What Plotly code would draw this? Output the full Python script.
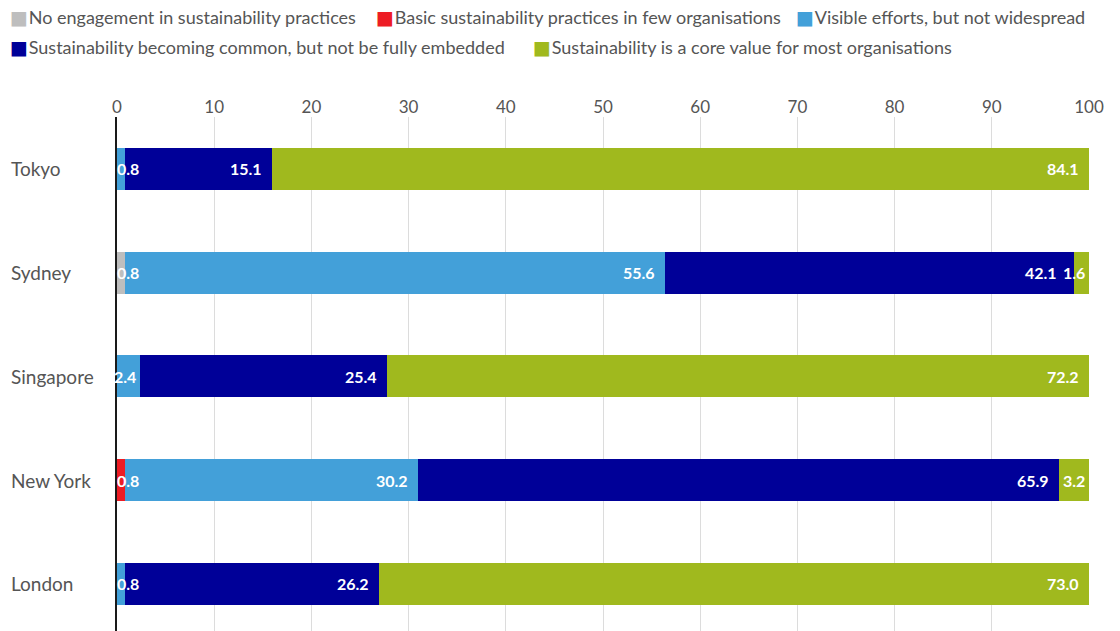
import plotly.graph_objects as go

cities = ["Tokyo", "Sydney", "Singapore", "New York", "London"]

no_engagement = [0, 0.8, 0, 0, 0]
basic_practices = [0, 0, 0, 0.8, 0]
visible_efforts = [0.8, 55.6, 2.4, 30.2, 0.8]
becoming_common = [15.1, 42.1, 25.4, 65.9, 26.2]
core_value = [84.1, 1.6, 72.2, 3.2, 73.0]

series = [
    ("No engagement in sustainability practices", no_engagement, "#bebebe"),
    ("Basic sustainability practices in few organisations", basic_practices, "#ed1c24"),
    ("Visible efforts, but not widespread", visible_efforts, "#43a0d9"),
    ("Sustainability becoming common, but not be fully embedded", becoming_common, "#000098"),
    ("Sustainability is a core value for most organisations", core_value, "#a0b91e"),
]

# key layout: (row, left edge in px) for each series
key_slots = [(0, 8), (0, 374), (0, 794), (1, 8), (1, 531)]

FONT = "Lato"
TEXT_GREY = "#555555"
PLOT_L, PLOT_W, PLOT_T, FIG_H = 117, 972, 117, 631
PLOT_H = FIG_H - PLOT_T

fig = go.Figure()
for name, vals, color in series:
    fig.add_trace(go.Bar(
        y=cities, x=vals, name=name, orientation="h",
        marker=dict(color=color, line=dict(width=0)),
        hoverinfo="x+name", showlegend=False,
    ))

annotations = []

# value labels at the right end of each segment (tiny leading segments sit at the axis)
for i, city in enumerate(cities):
    start = 0.0
    nonzero = [(s[1][i]) for s in series if s[1][i] > 0]
    for k, v in enumerate(nonzero):
        end = start + v
        label = f"<b>{v:.1f}</b>"
        font = dict(family=FONT, size=16, color="white")
        if end < 2:
            annotations.append(dict(x=0, y=city, xref="x", yref="y", text=label,
                                    xanchor="left", showarrow=False, xshift=-2, font=font))
        else:
            nxt = nonzero[k + 1] if k + 1 < len(nonzero) else None
            if v <= 5:
                shift = -2
            elif nxt is not None and nxt < 2:
                shift = -15
            else:
                shift = -8
            annotations.append(dict(x=min(end, 100), y=city, xref="x", yref="y", text=label,
                                    xanchor="right", showarrow=False, xshift=shift, font=font))
        start = end

# city names, left aligned near the page edge
for city in cities:
    annotations.append(dict(x=(9 - PLOT_L) / PLOT_W, y=city, xref="paper", yref="y", text=city,
                            xanchor="left", showarrow=False,
                            font=dict(family=FONT, size=19, color=TEXT_GREY)))

# colour key above the chart
for (name, vals, color), (row, left) in zip(series, key_slots):
    y_px = 17 + row * 30
    annotations.append(dict(
        x=(left - PLOT_L) / PLOT_W, y=(FIG_H - y_px) / PLOT_H, xref="paper", yref="paper",
        xanchor="left", yanchor="middle", showarrow=False,
        text=f"<span style='color:{color};font-size:19px;font-family:DejaVu Sans'>■</span>"
             f"<span style='font-size:3px'> </span>{name}",
        font=dict(family=FONT, size=18, color=TEXT_GREY),
    ))

fig.update_layout(
    barmode="stack",
    bargap=0.595,
    width=1120, height=631,
    margin=dict(l=PLOT_L, r=1120 - PLOT_L - PLOT_W, t=PLOT_T, b=0, autoexpand=False),
    paper_bgcolor="white", plot_bgcolor="white",
    font=dict(family=FONT, color=TEXT_GREY),
    showlegend=False,
    annotations=annotations,
    xaxis=dict(range=[0, 100], side="top", tickvals=list(range(0, 101, 10)),
               showgrid=True, gridcolor="#dcdcdc", gridwidth=1, zeroline=False,
               ticks="", tickfont=dict(family=FONT, size=17, color=TEXT_GREY), fixedrange=True),
    yaxis=dict(categoryorder="array", categoryarray=cities, range=[4.453, -0.5],
               showticklabels=False, showgrid=False, zeroline=False,
               showline=True, linecolor="#1a1a1a", linewidth=2, fixedrange=True),
)

fig.write_html("out.html")
